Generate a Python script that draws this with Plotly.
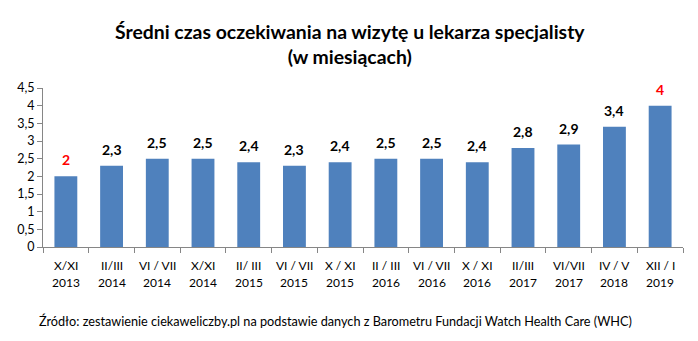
import plotly.graph_objects as go

periods = ["X/XI", "II/III", "VI / VII", "X/XI", "II/ III", "VI / VII", "X / XI",
           "II / III", "VI / VII", "X / XI", "II/III", "VI/VII", "IV / V", "XII / I"]
years = ["2013", "2014", "2014", "2014", "2015", "2015", "2015",
         "2016", "2016", "2016", "2017", "2017", "2018", "2019"]
values = [2, 2.3, 2.5, 2.5, 2.4, 2.3, 2.4, 2.5, 2.5, 2.4, 2.8, 2.9, 3.4, 4]
highlight = [True] + [False] * 12 + [True]

categories = [f"{p} {y}" for p, y in zip(periods, years)]
labels = [(f"{v:g}").replace(".", ",") for v in values]

FONT = "Lato"
fig = go.Figure()
fig.add_trace(go.Bar(
    x=categories, y=values,
    marker=dict(color="#4F81BD", line=dict(width=0)),
    hoverinfo="skip",
))

for c, v, t, h in zip(categories, values, labels, highlight):
    fig.add_annotation(
        x=c, y=v, text=f"<b>{t}</b>", showarrow=False,
        yanchor="bottom", yshift=6,
        font=dict(family=FONT, size=14, color="#FF0000" if h else "#000000"),
    )

# two-row category labels
for c, p, y in zip(categories, periods, years):
    fig.add_annotation(x=c, xref="x", yref="paper", y=0, yanchor="middle",
                       yshift=-18, text=p, showarrow=False,
                       font=dict(family=FONT, size=12, color="#000000"))
    fig.add_annotation(x=c, xref="x", yref="paper", y=0, yanchor="middle",
                       yshift=-35, text=y, showarrow=False,
                       font=dict(family=FONT, size=12, color="#000000"))

fig.add_annotation(
    xref="paper", yref="paper", x=0.48, y=1.0, yanchor="bottom", yshift=18,
    text="<b>Średni czas oczekiwania na wizytę u lekarza specjalisty<br>(w miesiącach)</b>",
    showarrow=False, font=dict(family=FONT, size=19.4, color="#000000"),
)

fig.add_annotation(
    xref="paper", yref="paper", x=-0.01, y=0, yanchor="middle", xanchor="left",
    yshift=-74,
    text="Źródło: zestawienie ciekaweliczby.pl na podstawie danych z Barometru Fundacji Watch Health Care (WHC)",
    showarrow=False, font=dict(family=FONT, size=12.7, color="#000000"),
)

fig.update_layout(
    width=698, height=341,
    margin=dict(l=43, r=15, t=88, b=94),
    paper_bgcolor="white", plot_bgcolor="white",
    separators=", ",
    bargap=0.5,
    showlegend=False,
    font=dict(family=FONT, size=12, color="#000000"),
)
fig.update_xaxes(
    showline=True, linecolor="#868686", linewidth=1,
    ticks="outside", tickson="boundaries", ticklen=5, tickcolor="#868686",
    showgrid=False, showticklabels=False,
)
fig.update_yaxes(
    range=[0, 4.5], dtick=0.5, tick0=0,
    showline=True, linecolor="#868686", linewidth=1,
    ticks="outside", ticklen=5, tickcolor="#868686",
    showgrid=False, zeroline=False,
    tickfont=dict(family=FONT, size=12.5),
)

fig.write_html("out.html")
